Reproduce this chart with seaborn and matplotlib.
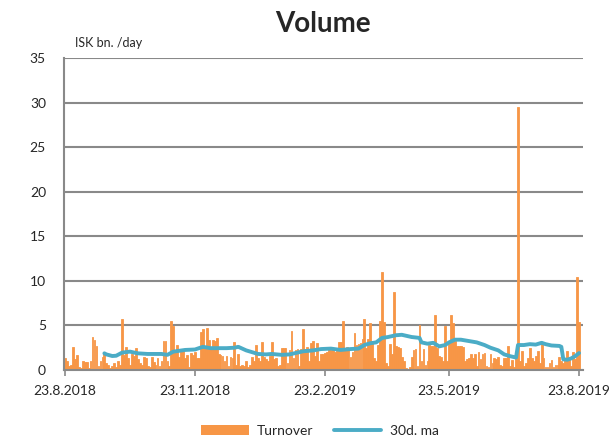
import numpy as np
import pandas as pd
import matplotlib
matplotlib.use("Agg")
import matplotlib.pyplot as plt
from matplotlib.patches import Patch
from matplotlib.lines import Line2D
import seaborn as sns

# ---- data ----
turnover = [
    1.3, 1.0, 0.5, 0.6, 2.6, 1.2, 1.7, 0.3, 0.2, 1.0,
    0.9, 0.9, 0.2, 1.0, 3.7, 3.4, 2.7, 0.5, 1.0, 1.5,
    1.9, 0.8, 0.6, 0.2, 0.4, 0.8, 0.3, 1.0, 0.6, 5.7,
    1.7, 2.6, 1.3, 0.6, 1.8, 1.6, 2.5, 1.2, 0.8, 0.6,
    1.5, 1.4, 0.5, 0.3, 1.5, 0.9, 0.6, 1.3, 0.4, 1.0,
    3.2, 3.3, 1.0, 0.5, 5.5, 4.9, 2.0, 2.8, 1.5, 2.2,
    2.2, 1.4, 1.7, 0.3, 1.9, 1.7, 2.0, 1.3, 1.3, 4.3,
    4.6, 2.5, 4.7, 3.4, 2.4, 3.4, 3.2, 3.6, 1.8, 1.7,
    1.6, 1.0, 1.6, 0.5, 1.5, 1.3, 3.1, 0.6, 1.8, 0.5,
    0.6, 0.4, 1.0, 0.3, 0.6, 1.5, 1.0, 2.8, 1.4, 1.0,
    3.1, 1.5, 1.2, 1.0, 1.6, 3.1, 1.2, 1.3, 0.4, 0.6,
    2.5, 2.5, 2.5, 0.8, 2.2, 4.4, 1.3, 2.2, 2.3, 0.5,
    2.3, 4.6, 2.4, 2.6, 1.0, 3.0, 3.3, 1.6, 3.0, 1.0,
    1.8, 1.8, 1.9, 2.0, 2.5, 2.2, 2.3, 2.0, 2.2, 3.1,
    3.1, 5.5, 2.3, 2.6, 2.5, 1.5, 2.0, 4.2, 2.8, 2.9,
    3.0, 3.5, 5.7, 2.5, 3.5, 5.3, 3.3, 1.3, 1.0, 2.8,
    5.5, 11.0, 5.4, 0.8, 0.5, 2.9, 1.8, 8.7, 2.7, 2.6,
    2.5, 1.5, 1.0, 0.2, 0.1, 0.3, 1.5, 2.2, 2.3, 0.5,
    5.1, 1.0, 2.4, 0.6, 1.0, 2.8, 2.7, 2.7, 6.2, 2.5,
    1.6, 1.5, 1.0, 4.9, 1.0, 3.0, 6.2, 5.3, 3.2, 2.7,
    2.7, 2.7, 2.6, 1.0, 1.2, 1.3, 1.8, 1.4, 1.8, 0.5,
    2.0, 1.2, 1.8, 1.9, 0.5, 0.3, 1.8, 0.8, 1.3, 1.2,
    1.5, 0.6, 0.4, 1.3, 1.3, 2.7, 0.5, 1.1, 0.3, 1.5,
    29.5, 1.0, 2.1, 0.5, 0.8, 1.3, 2.5, 1.3, 1.0, 1.6,
    2.1, 0.8, 2.9, 1.4, 0.3, 0.3, 0.8, 1.1, 0.3, 0.6,
    0.6, 1.5, 1.0, 0.8, 1.3, 2.1, 1.4, 0.5, 2.0, 1.2, 10.4, 5.4,
]

# trading-day number at which each moving-average reading was taken
ma_day = [20, 21, 24, 26, 29, 33, 37, 42, 49, 52, 55, 61, 66, 70, 74, 82, 86, 88,
          92, 95, 98, 102, 105, 110, 114, 117, 121, 126, 130, 135, 140, 145, 149,
          152, 155, 158, 161, 164, 168, 171, 173, 176, 180, 181, 184, 187, 190,
          193, 195, 198, 201, 205, 209, 213, 216, 220, 223, 226, 229, 230, 233,
          236, 239, 242, 244, 247, 251, 252, 253, 255, 257, 259, 261]
ma_val = [1.87, 1.75, 1.57, 1.6, 1.95, 2.06, 1.87, 1.8, 1.8, 1.7, 2.06, 2.25, 2.3,
          2.6, 2.45, 2.45, 2.5, 2.6, 2.2, 2.0, 1.8, 1.75, 1.8, 1.7, 1.75, 1.9, 2.1,
          2.2, 2.35, 2.4, 2.25, 2.35, 2.4, 2.8, 3.0, 3.1, 3.6, 3.7, 3.9, 3.95, 3.85,
          3.7, 3.6, 3.1, 2.95, 3.05, 2.65, 2.8, 3.1, 3.4, 3.4, 3.25, 3.1, 2.8, 2.5,
          2.2, 1.75, 1.55, 1.4, 2.8, 2.8, 2.9, 2.85, 3.05, 2.9, 2.75, 2.7, 2.6,
          1.2, 1.15, 1.3, 1.55, 1.9]

start_date = "2018-08-23"
end_date = "2019-08-23"
tick_dates = ["2018-08-23", "2018-11-23", "2019-02-23", "2019-05-23", "2019-08-23"]
tick_labels = ["23.8.2018", "23.11.2018", "23.2.2019", "23.5.2019", "23.8.2019"]
y_ticks = [0, 5, 10, 15, 20, 25, 30, 35]

series_names = ["Turnover", "30d. ma"]
colors = ["#F79646", "#4BACC6"]

# ---- build ----
dates = pd.bdate_range(start_date, end_date)
days = np.arange(len(turnover))
df = pd.DataFrame({"day": days, "turnover": turnover})
ma_df = pd.DataFrame({"day": ma_day, "ma": ma_val})

sns.set_style("white")
plt.rcParams["font.family"] = ["Lato", "DejaVu Sans"]

fig = plt.figure(figsize=(6.16, 4.40), dpi=100)
ax = fig.add_axes([64 / 616, 1 - 370 / 440, (583 - 64) / 616, (370 - 58) / 440])

sns.barplot(data=df, x="day", y="turnover", native_scale=True, color=colors[0],
            saturation=1, width=0.9, errorbar=None, linewidth=0.6,
            edgecolor=colors[0], ax=ax, zorder=2)
sns.lineplot(data=ma_df, x="day", y="ma", color=colors[1], linewidth=2.8,
             ax=ax, zorder=3)

ax.set_xlim(-0.5, 263)
ax.set_ylim(0, 35)
ax.set_yticks(y_ticks)
ax.set_yticklabels([str(v) for v in y_ticks], fontsize=10)
tick_pos = [int(dates.searchsorted(pd.Timestamp(d))) for d in tick_dates]
ax.set_xticks(tick_pos)
ax.set_xticklabels(tick_labels, fontsize=10)
ax.set_xlabel("")
ax.set_ylabel("")

ax.grid(axis="y", color="#898989", linewidth=1.5, zorder=1)
ax.grid(axis="x", visible=False)
ax.set_axisbelow(True)
for s in ["top", "right"]:
    ax.spines[s].set_visible(False)
for s in ["left", "bottom"]:
    ax.spines[s].set_color("#898989")
    ax.spines[s].set_linewidth(1.5)
ax.tick_params(axis="x", direction="out", length=4, width=1.2, color="#898989",
               pad=7, bottom=True)
ax.tick_params(axis="y", length=0, pad=13)

fig.text(323 / 616, 1 - 24 / 440, "Volume", ha="center", va="center",
         fontsize=20, fontweight="bold")
fig.text(75 / 616, 1 - 43 / 440, "ISK bn. /day", ha="left", va="center", fontsize=9)

handles = [Patch(facecolor=colors[0], edgecolor="none"),
           Line2D([0], [0], color=colors[1], linewidth=2.8)]
fig.legend(handles, series_names, loc="center", bbox_to_anchor=(320 / 616, 1 - 431 / 440),
           ncol=2, frameon=False, fontsize=10, handlelength=3.4, columnspacing=1.5,
           handletextpad=0.6)

fig.savefig("out.png", dpi=100)
